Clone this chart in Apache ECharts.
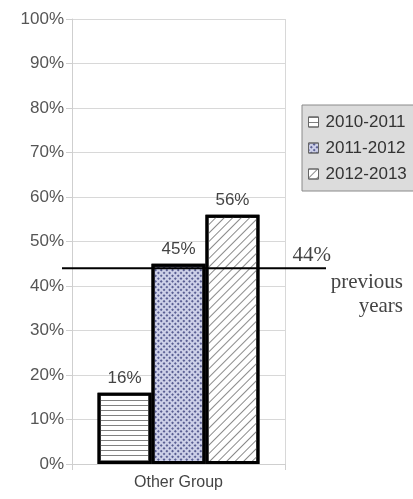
<!DOCTYPE html>
<html>
<head>
<meta charset="utf-8">
<script src="https://cdn.jsdelivr.net/npm/echarts@6/dist/echarts.min.js"></script>
<style>
html,body{margin:0;padding:0;background:#fff;}
#c{width:413px;height:499px;}
</style>
</head>
<body>
<div id="c"></div>
<script>
var categories = ['Other Group'];
var seriesNames = ['2010-2011', '2011-2012', '2012-2013'];
var values2010 = [16];
var values2011 = [45];
var values2012 = [56];
var previousYears = 44;
var refLabel = '44%';
var refText = 'previous\nyears';

var chart = echarts.init(document.getElementById('c'), null, {renderer: 'canvas'});
var sans = '"Liberation Sans", Arial, sans-serif';
var serif = '"Liberation Serif", "Times New Roman", serif';

var decals = [
  {symbol: 'rect', symbolSize: 1, dashArrayX: [1, 0], dashArrayY: [1, 4], rotation: 0, color: '#808080'},
  {symbol: 'rect', symbolSize: 1, dashArrayX: [2, 2], dashArrayY: [2, 2], rotation: Math.PI / 4, color: 'rgba(60,65,125,0.8)'},
  {symbol: 'rect', symbolSize: 1, dashArrayX: [1, 0], dashArrayY: [1, 5], rotation: -Math.PI / 4, color: '#8a8a8a'}
];
var fills = ['#ffffff', '#cdd0e8', '#ffffff'];
var vals = [values2010, values2011, values2012];

var barSeries = seriesNames.map(function (n, i) {
  return {
    name: n,
    type: 'bar',
    xAxisIndex: 0, yAxisIndex: 0,
    barGap: '0%',
    barCategoryGap: '24%',
    data: vals[i],
    itemStyle: {color: fills[i], borderColor: '#000', borderWidth: 3, decal: decals[i]},
    label: {show: true, position: 'top', distance: 6, formatter: '{c}%', color: '#444', fontSize: 17, fontFamily: sans}
  };
});

var lineData = [[0, previousYears], [1, previousYears]];

var option = {
  animation: false,
  aria: {enabled: false},
  grid: [
    {left: 72, right: 128, top: 19, bottom: 35},
    {left: 62, right: 87, top: 19, bottom: 35}
  ],
  legend: {
    orient: 'vertical',
    left: 302, top: 105,
    padding: [7, 12, 7, 6],
    icon: 'rect',
    itemWidth: 10, itemHeight: 10, itemGap: 6,
    backgroundColor: '#dcdcdc',
    borderColor: '#8a8a8a', borderWidth: 1,
    data: seriesNames,
    itemStyle: {borderWidth: 1, borderColor: '#666'},
    textStyle: {fontSize: 17, fontFamily: sans, color: '#333', lineHeight: 20, padding: [0, 0, 0, 2]}
  },
  xAxis: [
    {
      type: 'category', gridIndex: 0, data: categories,
      axisLine: {show: true, lineStyle: {color: '#cfcfcf'}},
      axisTick: {show: true, length: 6, lineStyle: {color: '#cfcfcf'}},
      splitLine: {show: true, lineStyle: {color: '#d8d8d8'}},
      axisLabel: {color: '#444', fontSize: 16, fontFamily: sans, margin: 11}
    },
    {type: 'value', gridIndex: 1, min: 0, max: 1, show: false}
  ],
  yAxis: [
    {
      type: 'value', gridIndex: 0, min: 0, max: 100, interval: 10,
      axisLine: {show: true, lineStyle: {color: '#cfcfcf'}},
      axisTick: {show: true, length: 6, lineStyle: {color: '#cfcfcf'}},
      splitLine: {show: true, lineStyle: {color: '#d8d8d8'}},
      axisLabel: {formatter: '{value}%', color: '#555', fontSize: 17, fontFamily: sans, margin: 8}
    },
    {type: 'value', gridIndex: 1, min: 0, max: 100, show: false}
  ],
  series: barSeries.concat([{
    name: 'previous',
    type: 'line',
    xAxisIndex: 1, yAxisIndex: 1,
    data: [
      {value: lineData[0]},
      {value: lineData[1], label: {show: true, position: 'top', align: 'right', distance: 2, offset: [5, 0], formatter: refLabel, color: '#444', fontSize: 21, fontFamily: serif}}
    ],
    symbol: 'circle', symbolSize: 0.1, showSymbol: true,
    itemStyle: {color: '#000'},
    lineStyle: {color: '#000', width: 2},
    label: {show: false},
    endLabel: {show: true, formatter: refText, align: 'right', verticalAlign: 'middle', distance: 0, offset: [77, 26], color: '#444', fontSize: 21, lineHeight: 24, fontFamily: serif},
    silent: true,
    z: 5
  }])
};
chart.setOption(option);
</script>
</body>
</html>
